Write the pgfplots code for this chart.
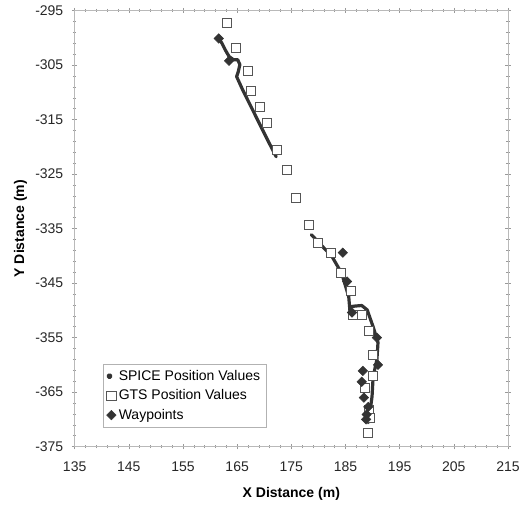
\documentclass[border=0pt]{standalone}
\usepackage{fontspec}
\setmainfont{Liberation Sans}
\usepackage{pgfplots}
\pgfplotsset{compat=1.18}
\definecolor{dk}{HTML}{333333}
\definecolor{sq}{HTML}{555555}
\begin{document}
\begin{tikzpicture}
\begin{axis}[
  scale only axis,
  width=325pt, height=327pt,
  xmin=135, xmax=215, ymin=-375, ymax=-295,
  xtick={135,145,...,215}, ytick={-375,-365,...,-295},
  minor x tick num=4, minor y tick num=4,
  tick align=center,
  major tick length=4pt, minor tick length=2.5pt,
  tick style={gray!80, line width=0.4pt},
  axis line style={gray!55, line width=0.6pt},
  /pgf/number format/assume math mode=true,
  /pgf/number format/1000 sep={},
  tick label style={font=\fontsize{10.5}{12}\selectfont, text=black!85},
  xticklabel style={yshift=-6pt},
  yticklabel style={xshift=-3pt},
  xlabel={\textbf{X Distance (m)}},
  ylabel={\textbf{Y Distance (m)}},
  label style={font=\fontsize{10.5}{12}\selectfont},
  xlabel style={at={(axis description cs:0.5,-0.108)}, anchor=center},
  ylabel style={at={(axis description cs:-0.125,0.5)}, anchor=center},
  unbounded coords=jump,
  clip=false,
  legend style={at={(0.065,0.044)}, anchor=south west, draw=gray!60, font=\fontsize{10.5}{12}\selectfont, row sep=1.5pt, inner sep=2.5pt, legend cell align=left},
]
\addplot[dk, line width=2.4pt, line cap=round, line join=round,
  legend image code/.code={\fill[dk] (0.25cm,0) circle (1.1pt);}]
  coordinates {
  (161.6,-300.1) (162.2,-301.0) (162.8,-302.2) (163.5,-303.4) (164.3,-304.0)
  (165.1,-304.0) (165.5,-304.9) (165.2,-306.2) (164.9,-307.1) (166.0,-309.5)
  (167.5,-312.5) (169.0,-315.5) (170.5,-318.5) (172.2,-321.8)
  (172.2,nan)
  (178.7,-336.1) (180.5,-338.0) (182.5,-340.1) (184.3,-343.2) (185.6,-347.5)
  (185.8,-349.9) (186.0,-349.3) (186.8,-349.2) (188.0,-349.1) (189.0,-349.9)
  (190.1,-353.0) (191.0,-355.9) (190.8,-359.0) (190.1,-362.2) (189.9,-365.8)
  (189.5,-368.8) (189.2,-370.6)
  };
\addlegendentry{SPICE Position Values}
\addplot[only marks, mark=square*, mark size=3.4pt,
  mark options={draw=sq, fill=white, line width=0.6pt}]
  coordinates {
  (163.1,-297.2) (164.8,-301.8) (167.0,-306.0) (167.5,-309.7) (169.2,-312.6)
  (170.5,-315.6) (172.3,-320.5) (174.2,-324.2) (175.9,-329.3) (178.3,-334.3)
  (179.9,-337.6) (182.3,-339.4) (184.2,-343.1) (186.0,-346.4) (186.4,-350.8)
  (188.0,-350.8) (189.3,-353.8) (190.1,-358.1) (190.1,-362.0) (188.6,-364.2)
  (189.3,-368.2) (189.5,-369.8) (189.2,-372.4)
  };
\addlegendentry{GTS Position Values}
\addplot[only marks, mark=square*, mark size=2.5pt,
  mark options={draw=dk, fill=dk, rotate=45}]
  coordinates {
  (161.6,-300.1) (163.5,-304.2) (184.5,-339.4) (185.3,-344.7) (186.2,-350.4)
  (190.8,-355.0) (191.0,-360.0) (188.2,-361.1) (188.0,-363.1) (188.4,-366.0)
  (189.2,-367.7) (188.9,-369.1) (188.8,-370.0)
  };
\addlegendentry{Waypoints}
\path (rel axis cs:1,1) ++(13.5pt,8pt);
\path (rel axis cs:0,0) ++(-56pt,-43pt);
\end{axis}
\end{tikzpicture}
\end{document}
